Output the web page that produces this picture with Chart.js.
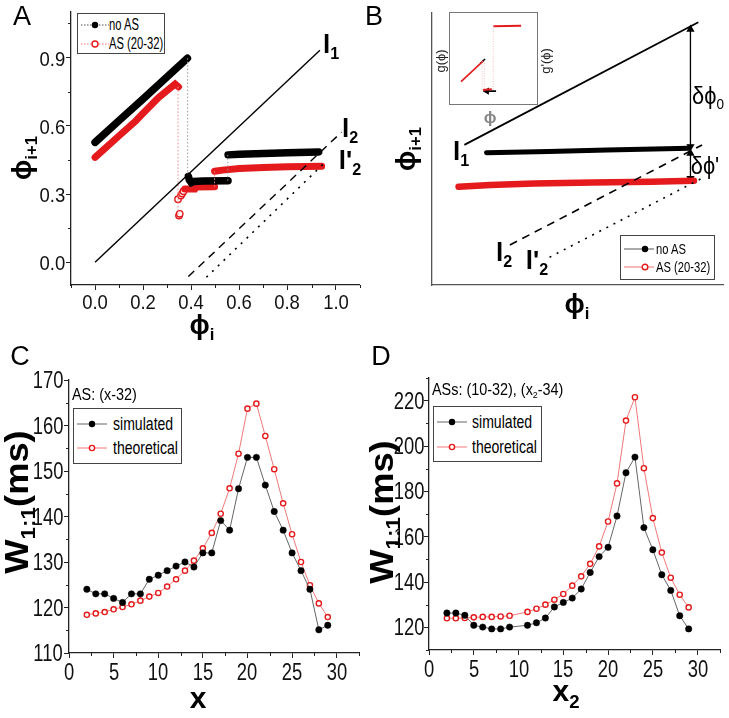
<!DOCTYPE html>
<html><head><meta charset="utf-8">
<script src="https://cdn.jsdelivr.net/npm/chart.js@4.4.0/dist/chart.umd.min.js"></script>
<style>
html,body{margin:0;padding:0;background:#fff;}
#fig{position:relative;width:729px;height:718px;overflow:hidden;background:#fff;font-family:'Liberation Sans',Arial,sans-serif;}
canvas{position:absolute;}
.t{position:absolute;white-space:nowrap;line-height:1;color:#000;}
.leg{position:absolute;border:1px solid #444;background:#fff;}
.row{position:absolute;white-space:nowrap;line-height:1;transform:translateY(-50%);}
.sub{font-size:0.62em;vertical-align:-0.35em;}
</style></head><body>
<div id="fig">
  <canvas id="cA" style="left:0;top:0" width="365" height="340"></canvas>
  <canvas id="cB" style="left:365px;top:0" width="364" height="340"></canvas>
  <canvas id="cI" style="left:449px;top:12px" width="88" height="92"></canvas>
  <canvas id="cC" style="left:0;top:340px" width="365" height="378"></canvas>
  <canvas id="cD" style="left:365px;top:340px" width="364" height="378"></canvas>
</div>
<script>
// ================= DATA =================
// Panel A
const A_xTicks = [0.0, 0.2, 0.4, 0.6, 0.8, 1.0];
const A_xTickLabels = ['0.0', '0.2', '0.4', '0.6', '0.8', '1.0'];
const A_yTicks = [0.0, 0.3, 0.6, 0.9];
const A_yTickLabels = ['0.0', '0.3', '0.6', '0.9'];
const A_xMinor = [-0.1, 0.1, 0.3, 0.5, 0.7, 0.9, 1.1];
const A_yMinor = [0.15, 0.45, 0.75, 1.05];
const A_noAS_x = [0.000, 0.100, 0.200, 0.300, 0.384, null, 0.388, 0.392, 0.400, 0.410, 0.450, 0.553, null, 0.553, 0.600, 0.700, 0.800, 0.930];
const A_noAS_y = [0.527, 0.623, 0.718, 0.815, 0.897, null, 0.378, 0.362, 0.350, 0.355, 0.357, 0.358, null, 0.472, 0.475, 0.478, 0.481, 0.485];
const A_noAS_link_x = [0.385, 0.385, null, 0.552, 0.552];
const A_noAS_link_y = [0.897, 0.378, null, 0.358, 0.472];
const A_AS_x = [0.000, 0.100, 0.170, 0.196, 0.264, 0.333, 0.347, null, 0.373, 0.415, 0.420, 0.497, null, 0.497, 0.530, 0.600, 0.700, 0.800, 0.942];
const A_AS_y = [0.461, 0.556, 0.622, 0.651, 0.724, 0.783, 0.771, null, 0.322, 0.322, 0.331, 0.332, null, 0.400, 0.405, 0.412, 0.417, 0.420, 0.422];
const A_ASpts_x = [0.345, 0.349, 0.352, 0.357, 0.362, 0.368];
const A_ASpts_y = [0.277, 0.205, 0.213, 0.293, 0.302, 0.312];
const A_AS_link_x = [0.345, 0.345, null, 0.497, 0.497];
const A_AS_link_y = [0.771, 0.205, null, 0.332, 0.400];
const A_l1_x = [0.0, 0.935], A_l1_y = [0.0, 0.932];
const A_l2_x = [0.388, 1.025], A_l2_y = [-0.063, 0.572];
const A_l2p_x = [0.463, 0.963], A_l2p_y = [-0.066, 0.446];

// Panel B (schematic, arbitrary 0-100 units)
const B_l1_x = [11.1, 91.3], B_l1_y = [51.5, 96.6];
const B_l2_x = [26.7, 92.6], B_l2_y = [14.7, 51.5];
const B_l2p_x = [40.3, 93.2], B_l2p_y = [10.2, 39.6];
const B_noAS_x = [18.7, 40.0, 60.0, 88.1], B_noAS_y = [48.6, 49.1, 49.6, 50.3];
const B_AS_x = [9.1, 20.0, 35.0, 55.0, 75.0, 89.8], B_AS_y = [36.1, 36.8, 37.3, 37.7, 38.0, 38.3];
const B_arr1_x = [88.6, 88.6], B_arr1_y = [94.0, 50.9];
const B_arr2_x = [88.6, 88.6], B_arr2_y = [48.4, 39.2];
// Inset of B
const I_gRed_x = [8.4, 37.0], I_gRed_y = [20.7, 46.2];
const I_gBlk_x = [33.5, 39.7], I_gBlk_y = [43.5, 48.5];
const I_link1_x = [35.9, 35.9, null, 38.9, 38.9], I_link1_y = [46.0, 10.0, null, 47.0, 10.0];
const I_lowRed_x = [37.0, 48.5], I_lowRed_y = [10.4, 11.3];
const I_lowBlk_x = [42.0, 54.0], I_lowBlk_y = [9.0, 9.0];
const I_link2_x = [50.4, 50.4], I_link2_y = [11.0, 89.2];
const I_topRed_x = [50.4, 86.6], I_topRed_y = [89.3, 90.0];

// Panel C
const C_xTicks = [0, 5, 10, 15, 20, 25, 30];
const C_xTickLabels = ['0', '5', '10', '15', '20', '25', '30'];
const C_yTicks = [110, 120, 130, 140, 150, 160, 170];
const C_yTickLabels = ['110', '120', '130', '140', '150', '160', '170'];
const C_xMinor = [2.5, 7.5, 12.5, 17.5, 22.5, 27.5, 32.5];
const C_yMinor = [115, 125, 135, 145, 155, 165];
const C_x = [2, 3, 4, 5, 6, 7, 8, 9, 10, 11, 12, 13, 14, 15, 16, 17, 18, 19, 20, 21, 22, 23, 24, 25, 26, 27, 28, 29];
const C_sim = [124.0, 123.0, 123.0, 122.0, 121.1, 123.0, 123.0, 126.2, 127.1, 128.1, 129.1, 130.0, 128.9, 132.0, 132.0, 139.1, 137.0, 146.1, 153.0, 153.0, 146.9, 141.1, 137.0, 132.0, 128.1, 124.0, 115.1, 116.1];
const C_theo = [118.4, 118.7, 119.0, 119.6, 120.1, 120.7, 121.5, 122.4, 123.2, 124.6, 126.2, 128.1, 130.3, 133.0, 136.4, 140.6, 146.2, 153.8, 163.7, 164.8, 157.7, 150.4, 142.9, 136.1, 130.0, 124.9, 120.9, 117.9];

// Panel D
const D_xTicks = [0, 5, 10, 15, 20, 25, 30];
const D_xTickLabels = ['0', '5', '10', '15', '20', '25', '30'];
const D_yTicks = [120, 140, 160, 180, 200, 220];
const D_yTickLabels = ['120', '140', '160', '180', '200', '220'];
const D_xMinor = [2.5, 7.5, 12.5, 17.5, 22.5, 27.5, 32.5];
const D_yMinor = [110, 130, 150, 170, 190, 210, 230];
const D_x = [2, 3, 4, 5, 6, 7, 8, 9, 11, 12, 13, 14, 15, 16, 17, 18, 19, 20, 21, 22, 23, 24, 25, 26, 27, 28, 29];
const D_sim = [126.3, 126.3, 125.3, 120.9, 120.1, 119.3, 119.3, 120.1, 120.9, 122.0, 124.1, 129.0, 131.0, 132.9, 136.9, 144.2, 151.2, 155.3, 169.1, 188.2, 195.1, 164.0, 154.2, 143.2, 136.3, 125.1, 119.3];
const D_theo = [124.0, 124.0, 124.1, 124.4, 124.6, 124.6, 124.8, 125.1, 126.8, 128.2, 130.0, 132.2, 134.7, 138.4, 142.5, 148.0, 155.7, 166.7, 183.5, 211.2, 221.5, 190.2, 168.2, 153.0, 141.9, 134.4, 128.8];

// ================= HELPERS =================
const RED = '#e41a1c';
const fig = document.getElementById('fig');
function pts(xs, ys){ return xs.map((x,i)=>({x:x, y:ys[i]})); }
function lineDS(xs, ys, color, width, dash, extra){
  return Object.assign({data:pts(xs,ys), showLine:true, borderColor:color, borderWidth:width, borderDash:dash||[], pointRadius:0, spanGaps:false, borderCapStyle:'butt', fill:false}, extra||{});
}
const minorTicks = {
  id:'minorTicks',
  afterDraw(chart, args, o){
    if(!o || !o.len) return;
    const ctx = chart.ctx, xs = chart.scales.x, ys = chart.scales.y;
    ctx.save(); ctx.strokeStyle = '#222'; ctx.lineWidth = 1;
    (o.x||[]).forEach(v=>{ const p = Math.round(xs.getPixelForValue(v))+0.5; ctx.beginPath(); ctx.moveTo(p, xs.top); ctx.lineTo(p, xs.top+o.len); ctx.stroke(); });
    (o.y||[]).forEach(v=>{ const p = Math.round(ys.getPixelForValue(v))+0.5; ctx.beginPath(); ctx.moveTo(ys.right, p); ctx.lineTo(ys.right-o.len, p); ctx.stroke(); });
    ctx.restore();
  }
};
function numAxis(min, max, ticks, size, isX){
  return {
    type:'linear', min, max,
    afterBuildTicks: s => { s.ticks = ticks.map(v=>({value:v})); },
    afterFit: s => { if(isX) s.height = size; else s.width = size; },
    grid:{display:true, drawOnChartArea:false, drawTicks:true, tickLength:5, tickColor:'#222', tickWidth:1},
    border:{display:true, color:'#222', width:1.3},
    ticks:{display:false}
  };
}
function bareAxis(min, max, size, isX, show){
  return {
    type:'linear', min, max, display: show,
    afterFit: s => { if(isX) s.height = size; else s.width = size; },
    grid:{display:false}, ticks:{display:false},
    border:{display:true, color:'#555', width:1.3}
  };
}
const baseOpts = (padding, minor) => ({
  responsive:false, animation:false, events:[],
  layout:{padding},
  plugins:{legend:{display:false}, tooltip:{enabled:false}, minorTicks: minor || {}}
});
// text: mode 'c' = centered, 'l' = left anchored, 'r' = right anchored, 'v' = rotated centered
function txt(html, x, y, fs, mode, k, style){
  const d = document.createElement('div');
  d.className = 't';
  d.style.fontSize = fs + 'px';
  d.style.top = y + 'px';
  k = k || 1;
  if(mode === 'l'){ d.style.left = x+'px'; d.style.transformOrigin = 'left center'; d.style.transform = 'translateY(-50%) scaleX('+k+')'; }
  else if(mode === 'r'){ d.style.right = (729 - x)+'px'; d.style.transformOrigin = 'right center'; d.style.transform = 'translateY(-50%) scaleX('+k+')'; }
  else if(mode === 'v'){ d.style.left = x+'px'; d.style.transform = 'translate(-50%,-50%) rotate(-90deg) scaleX('+k+')'; }
  else { d.style.left = x+'px'; d.style.transform = 'translate(-50%,-50%) scaleX('+k+')'; }
  if(style) d.style.cssText += style;
  d.innerHTML = html; fig.appendChild(d); return d;
}
function htmlTicks(chart, cl, ct, xT, xL, yT, yL, fs, k, xOff, yGap){
  const xs = chart.scales.x, ys = chart.scales.y;
  xT.forEach((v,i)=> txt(xL[i], cl + xs.getPixelForValue(v), ct + xs.top + xOff, fs, 'c', k, 'color:#111'));
  yT.forEach((v,i)=> txt(yL[i], cl + ys.right - yGap, ct + ys.getPixelForValue(v), fs, 'r', k, 'color:#111'));
}
const S = s => '<span class="sub">'+s+'</span>';

// ================= PANEL A =================
const chA = new Chart(document.getElementById('cA'), {
  type:'scatter',
  data:{datasets:[
    lineDS(A_l1_x, A_l1_y, '#000', 1.4),
    lineDS(A_l2_x, A_l2_y, '#000', 1.4, [8,6]),
    lineDS(A_l2p_x, A_l2p_y, '#000', 1.6, [2,6]),
    lineDS(A_noAS_link_x, A_noAS_link_y, '#999', 1, [1.5,2]),
    lineDS(A_AS_link_x, A_AS_link_y, '#f08a8a', 1, [1.5,2]),
    lineDS(A_noAS_x, A_noAS_y, '#000', 7.5, [], {borderCapStyle:'round', label:'no AS'}),
    lineDS(A_AS_x, A_AS_y, RED, 7, [], {borderCapStyle:'round', label:'AS (20-32)'}),
    {data:pts(A_ASpts_x, A_ASpts_y), showLine:false, pointRadius:3.2, pointBorderWidth:1.4, pointBorderColor:RED, pointBackgroundColor:'#fff'}
  ]},
  options:Object.assign(baseOpts({left:0, top:12, right:2, bottom:0}, {x:A_xMinor, y:A_yMinor, len:3}), {
    scales:{ x: numAxis(-0.1, 1.1, A_xTicks, 55, true), y: numAxis(-0.1, 1.1, A_yTicks, 71, false) }
  }),
  plugins:[minorTicks]
});
htmlTicks(chA, 0, 0, A_xTicks, A_xTickLabels, A_yTicks, A_yTickLabels, 21, 0.88, 16, 6);

// ================= PANEL B =================
new Chart(document.getElementById('cB'), {
  type:'scatter',
  data:{datasets:[
    lineDS(B_l1_x, B_l1_y, '#000', 1.8),
    lineDS(B_l2_x, B_l2_y, '#000', 1.6, [8,6]),
    lineDS(B_l2p_x, B_l2p_y, '#000', 1.6, [2,6]),
    lineDS(B_AS_x, B_AS_y, RED, 6.5, [], {borderCapStyle:'round', label:'AS (20-32)'}),
    lineDS(B_AS_x, B_AS_y, '#f6a3a3', 2.2, [], {borderCapStyle:'round'}),
    lineDS(B_noAS_x, B_noAS_y, '#000', 5, [], {borderCapStyle:'round', label:'no AS'}),
    lineDS(B_arr1_x, B_arr1_y, '#000', 1.3, [], {pointRadius:3.5, pointStyle:'triangle', pointRotation:[0,180], pointBackgroundColor:'#000', pointBorderColor:'#000'}),
    lineDS(B_arr2_x, B_arr2_y, '#000', 1.3, [], {pointRadius:3.5, pointStyle:'triangle', pointRotation:[0,180], pointBackgroundColor:'#000', pointBorderColor:'#000'})
  ]},
  options:Object.assign(baseOpts({left:0, top:13, right:4, bottom:0}), {
    scales:{ x: bareAxis(0,100,55,true,true), y: bareAxis(0,100,67,false,true) }
  })
});

// inset
new Chart(document.getElementById('cI'), {
  type:'scatter',
  data:{datasets:[
    lineDS(I_link1_x, I_link1_y, '#f2b0b0', 0.8, [1,1.5]),
    lineDS(I_link2_x, I_link2_y, '#f2b0b0', 0.8, [1,1.5]),
    lineDS(I_gRed_x, I_gRed_y, RED, 1.6),
    lineDS(I_gBlk_x, I_gBlk_y, '#000', 1.6),
    lineDS(I_lowRed_x, I_lowRed_y, RED, 2),
    lineDS(I_lowBlk_x, I_lowBlk_y, '#000', 1.6, [], {pointRadius:[2.5,0], pointStyle:'triangle', pointRotation:-90, pointBackgroundColor:'#000', pointBorderColor:'#000'}),
    lineDS(I_topRed_x, I_topRed_y, RED, 2)
  ]},
  options:Object.assign(baseOpts({left:0, top:0, right:0, bottom:0}), {
    scales:{ x: bareAxis(0,100,0,true,false), y: bareAxis(0,100,0,false,false) }
  })
});

// ================= PANELS C, D =================
function wChart(id, xs, sim, theo, xT, yT, xMin, yMin, ymin, ymax, pad, yW, xH){
  return new Chart(document.getElementById(id), {
    type:'scatter',
    data:{datasets:[
      {label:'simulated', data:pts(xs, sim), showLine:true, borderColor:'#666', borderWidth:1, pointRadius:3.2, pointBackgroundColor:'#000', pointBorderColor:'#000', pointBorderWidth:0.5},
      {label:'theoretical', data:pts(xs, theo), showLine:true, borderColor:'#f07878', borderWidth:1, pointRadius:2.6, pointBackgroundColor:'#fff', pointBorderColor:RED, pointBorderWidth:1.4}
    ]},
    options:Object.assign(baseOpts(pad, {x:xMin, y:yMin, len:3}), {
      scales:{ x: numAxis(0, 32.5, xT, xH, true), y: numAxis(ymin, ymax, yT, yW, false) }
    }),
    plugins:[minorTicks]
  });
}
const chC = wChart('cC', C_x, C_sim, C_theo, C_xTicks, C_yTicks, C_xMinor, C_yMinor, 110, 170, {left:0, top:40, right:6, bottom:0}, 69, 65);
const chD = wChart('cD', D_x, D_sim, D_theo, D_xTicks, D_yTicks, D_xMinor, D_yMinor, 110, 230, {left:0, top:38, right:9, bottom:0}, 64, 68);
htmlTicks(chC, 0, 340, C_xTicks, C_xTickLabels, C_yTicks, C_yTickLabels, 23, 0.8, 19, 6);
htmlTicks(chD, 365, 340, D_xTicks, D_xTickLabels, D_yTicks, D_yTickLabels, 23, 0.8, 19, 5);

// ================= TEXT OVERLAYS =================
txt('A', 22, 16, 27); txt('B', 374, 16, 27); txt('C', 20, 356, 27); txt('D', 381, 356, 27);
// panel A
txt('ϕ'+S('i+1'), 25, 158, 27, 'v', 1, 'font-weight:bold');
txt('ϕ'+S('i'), 202, 328, 27, 'c', 1, 'font-weight:bold');
txt('l'+S('1'), 331, 46, 26, 'c', 1, 'font-weight:bold');
txt('l'+S('2'), 350, 130, 26, 'c', 1, 'font-weight:bold');
txt("l'"+S('2'), 350, 162, 26, 'c', 1, 'font-weight:bold');
// panel B
txt('ϕ'+S('i+1'), 409, 149, 27, 'v', 1, 'font-weight:bold');
txt('ϕ'+S('i'), 577, 307, 27, 'c', 1, 'font-weight:bold');
txt('l'+S('1'), 461, 153, 26, 'c', 1, 'font-weight:bold');
txt('l'+S('2'), 504, 254, 26, 'c', 1, 'font-weight:bold');
txt("l'"+S('2'), 537, 262, 26, 'c', 1, 'font-weight:bold');
txt('δϕ'+S('0'), 708, 98, 23, 'c', 0.95);
txt("δϕ'", 705, 166, 23, 'c', 0.95);
txt('g(ϕ)', 440, 61, 13, 'v', 1, 'color:#222');
txt("g'(ϕ)", 545, 61, 13, 'v', 1, 'color:#222');
txt('ϕ', 490, 117, 17, 'c', 1, 'color:#888;font-weight:bold');
// panel C / D titles
txt('W'+S('1:1')+'(ms)', 19, 502, 33, 'v', 1.1, 'font-weight:bold');
txt('W'+S('1:1')+'(ms)', 384, 512, 33, 'v', 1.1, 'font-weight:bold');
txt('x', 198, 698, 30, 'c', 1, 'font-weight:bold');
txt('x'+S('2'), 566, 694, 30, 'c', 1, 'font-weight:bold');
txt('AS: (x-32)', 72, 395, 16, 'l', 0.9);
txt('ASs: (10-32), (x'+S('2')+'-34)', 432, 391, 16, 'l', 0.9);

// ================= LEGENDS =================
function sampleSVG(w, lineColor, dash, filled, mx, r){
  return '<svg width="'+w+'" height="12" style="position:absolute;left:3px;top:-6px">'+
    '<line x1="0" y1="6" x2="'+w+'" y2="6" stroke="'+lineColor+'" stroke-width="1" '+(dash?'stroke-dasharray="'+dash+'"':'')+'/>'+
    (filled ? '<circle cx="'+mx+'" cy="6" r="'+r+'" fill="#000"/>' : '<circle cx="'+mx+'" cy="6" r="'+r+'" fill="#fff" stroke="'+RED+'" stroke-width="1.4"/>')+
    '</svg>';
}
function legend(left, top, w, h, rows, fs, textLeft, k){
  const box = document.createElement('div'); box.className='leg';
  box.style.cssText += 'left:'+left+'px;top:'+top+'px;width:'+w+'px;height:'+h+'px;';
  rows.forEach(r=>{
    const row = document.createElement('div'); row.className='row';
    row.style.cssText += 'left:0;top:'+r.y+'px;font-size:'+fs+'px;width:'+w+'px;height:0;';
    row.innerHTML = sampleSVG(r.sw, r.lc, r.dash, r.filled, r.mx, r.rad) +
      '<span style="position:absolute;left:'+textLeft+'px;top:0;transform-origin:left center;transform:translateY(-50%) scaleX('+k+');line-height:1">'+r.text+'</span>';
    box.appendChild(row);
  });
  fig.appendChild(box);
}
legend(77, 13, 86, 39, [
  {y:11, sw:28, lc:'#555', dash:'1.5,1.5', filled:true, mx:14, rad:3.2, text:'no AS'},
  {y:30, sw:28, lc:'#f07070', dash:'1.5,1.5', filled:false, mx:14, rad:3, text:'AS (20-32)'}
], 16, 31, 0.7);
legend(620, 235, 93, 43, [
  {y:13, sw:30, lc:'#555', dash:'', filled:true, mx:21, rad:3.2, text:'no AS'},
  {y:31, sw:30, lc:'#f07070', dash:'', filled:false, mx:21, rad:2.8, text:'AS (20-32)'}
], 14, 35, 0.8);
legend(73, 408, 107, 54, [
  {y:15, sw:30, lc:'#666', dash:'', filled:true, mx:15, rad:3.2, text:'simulated'},
  {y:39, sw:30, lc:'#f07878', dash:'', filled:false, mx:15, rad:2.6, text:'theoretical'}
], 18.5, 39, 0.76);
legend(433, 406, 107, 54, [
  {y:15, sw:30, lc:'#666', dash:'', filled:true, mx:15, rad:3.2, text:'simulated'},
  {y:40, sw:30, lc:'#f07878', dash:'', filled:false, mx:15, rad:2.6, text:'theoretical'}
], 18.5, 38, 0.76);
// inset frame
const fr = document.createElement('div');
fr.style.cssText = 'position:absolute;left:449px;top:12px;width:87px;height:91px;border:1px solid #777;pointer-events:none;';
fig.appendChild(fr);
</script>
</body></html>
